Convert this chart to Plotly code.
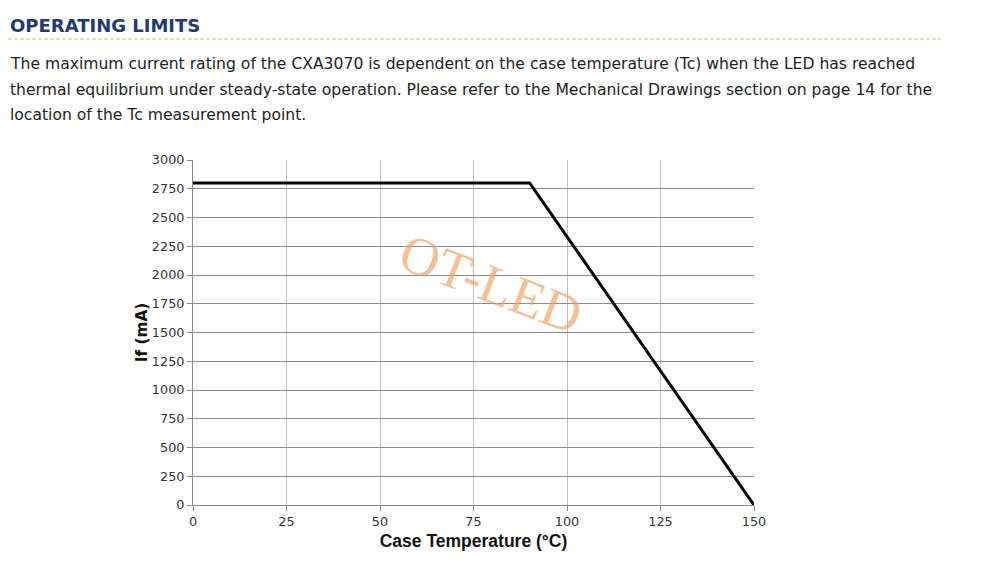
import plotly.graph_objects as go

# derating curve of the CXA3070
case_temp = [0, 90, 150]
current_ma = [2800, 2800, 0]

x_ticks = [0, 25, 50, 75, 100, 125, 150]
y_ticks = [0, 250, 500, 750, 1000, 1250, 1500, 1750, 2000, 2250, 2500, 2750, 3000]

heading = 'OPERATING LIMITS'
paragraph = [
    'The maximum current rating of the CXA3070 is dependent on the case temperature (Tc) when the LED has reached',
    'thermal equilibrium under steady-state operation. Please refer to the Mechanical Drawings section on page 14 for the',
    'location of the Tc measurement point.',
]

# plot area in screen pixels; the page body adds an 8px offset
W, H = 984, 567
OFF = 8
L, R, T, B = 193 - OFF, 754 - OFF, 160 - OFF, 505 - OFF


def px(x):
    return (x - OFF - L) / (R - L)


def py(y):
    return (B - (y - OFF)) / (B - T)


fig = go.Figure()
fig.add_trace(go.Scatter(x=case_temp, y=current_ma, mode='lines',
                         line=dict(color='black', width=3), cliponaxis=False,
                         showlegend=False, hoverinfo='skip'))

axis_font = dict(family='DejaVu Sans', size=12.8, color='#333333')
fig.update_xaxes(range=[0, 150], tickvals=x_ticks, ticks='outside', ticklen=5,
                 tickcolor='#888888', showgrid=True, gridcolor='#c0c0c0',
                 showline=True, linecolor='#888888', zeroline=False,
                 tickfont=axis_font,
                 title=dict(text='<b>Case Temperature (°C)</b>', standoff=6,
                            font=dict(family='Liberation Sans', size=17.5, color='#111111')))
fig.update_yaxes(range=[0, 3000], tickvals=y_ticks, ticks='outside', ticklen=5,
                 tickcolor='#888888', showgrid=True, gridcolor='#8c8c8c',
                 showline=True, linecolor='#888888', zeroline=False,
                 tickfont=axis_font,
                 title=dict(text='<b>If (mA)</b>', standoff=0,
                            font=dict(family='DejaVu Sans', size=15.3, color='#111111')))

annotations = [
    dict(text='<b>' + heading + '</b>', x=px(8), y=py(25), xanchor='left', yanchor='middle',
         font=dict(family='DejaVu Sans', size=18, color='#1c3a78')),
]
for i, line in enumerate(paragraph):
    annotations.append(dict(text=line, x=px(8), y=py(64 + i * 25.5), xanchor='left',
                            yanchor='middle',
                            font=dict(family='DejaVu Sans', size=15.6, color='#222222')))
# watermark
annotations.append(dict(text='OT-LED', x=px(491), y=py(284), textangle=21,
                        font=dict(family='Liberation Serif', size=54, color='rgba(240,160,90,0.65)')))
for a in annotations:
    a.update(xref='paper', yref='paper', showarrow=False)

fig.update_layout(
    width=W, height=H,
    margin=dict(l=L, r=W - R, t=T, b=H - B),
    paper_bgcolor='white', plot_bgcolor='white',
    annotations=annotations,
    shapes=[dict(type='line', xref='paper', yref='paper', x0=px(8), x1=px(941),
                 y0=py(39), y1=py(39), line=dict(color='#d8c070', width=1, dash='4px,2px'))],
)

fig.write_html('out.html')
